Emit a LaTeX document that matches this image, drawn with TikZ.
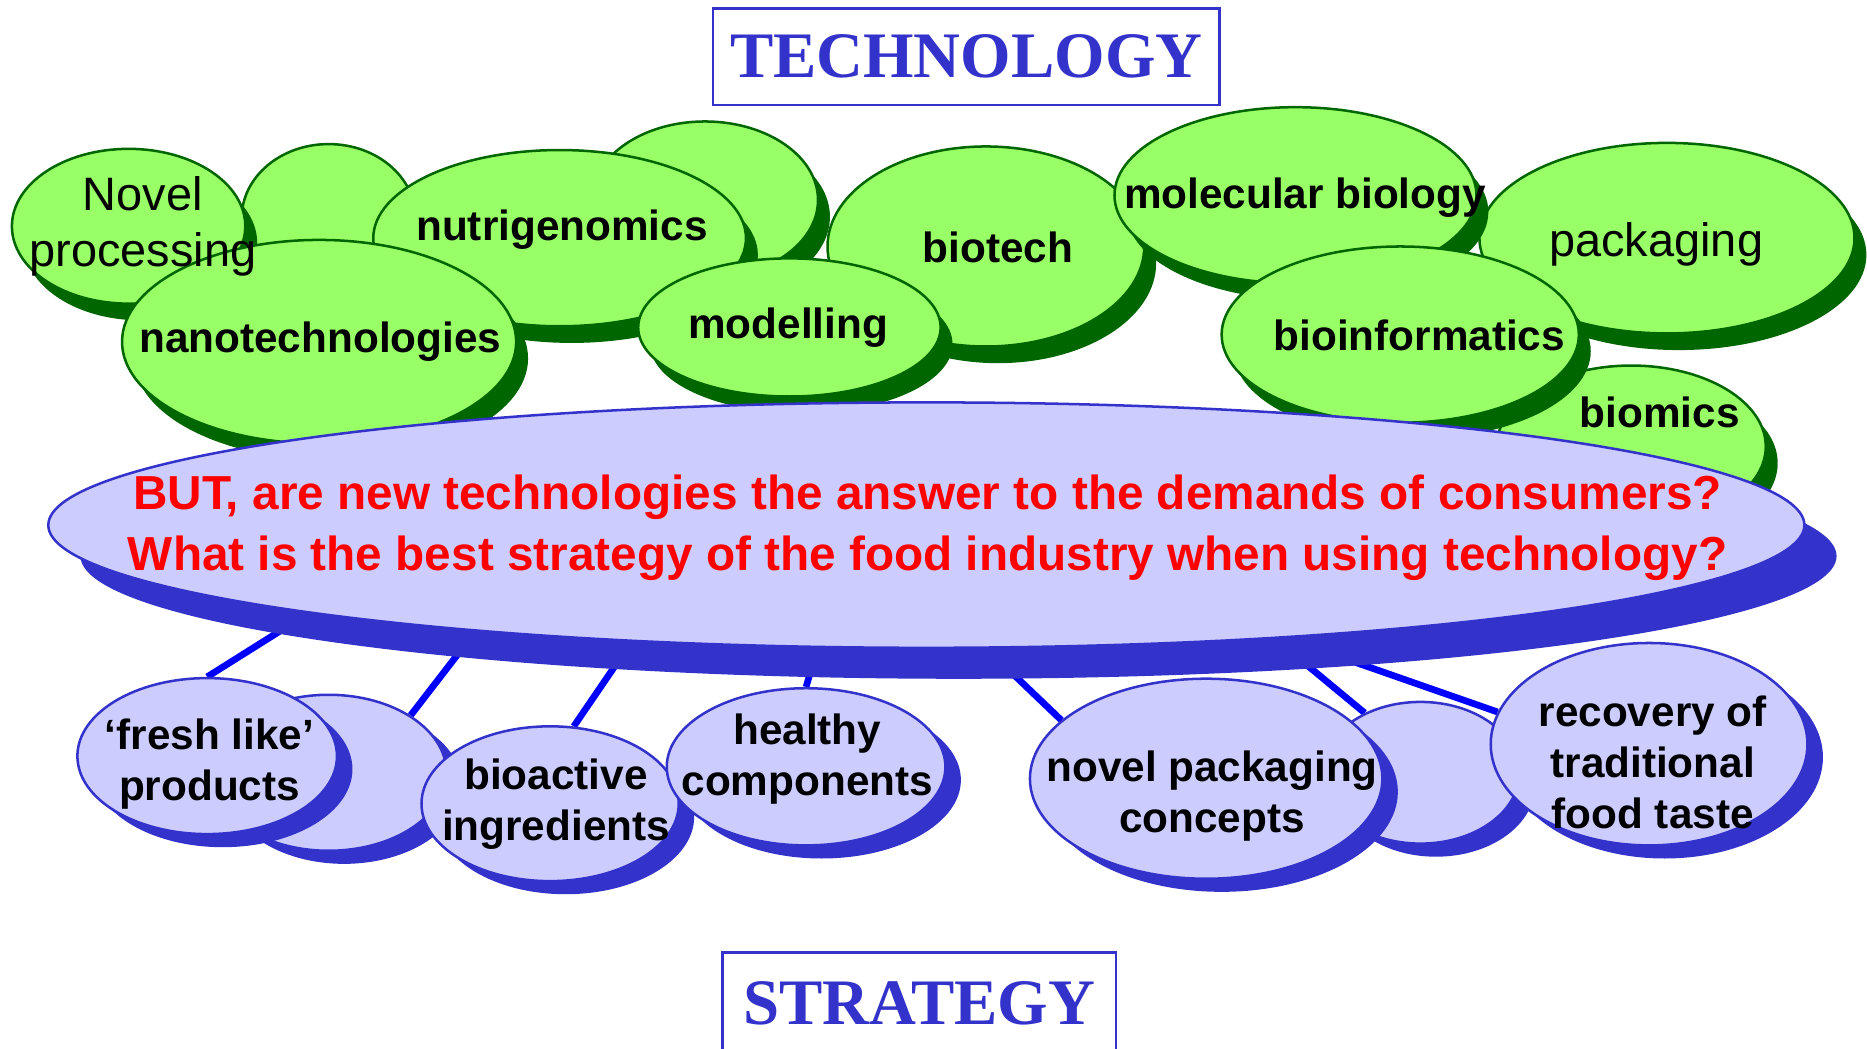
\documentclass[tikz,border=0pt]{standalone}
\usepackage{fontspec}
\setmainfont{Liberation Sans}
\newfontfamily\headfont{Liberation Serif}
\usepackage{xcolor}
\usetikzlibrary{positioning, shapes.geometric, shadows, backgrounds}

\definecolor{leafgreen}{HTML}{99FF66}
\definecolor{deepgreen}{HTML}{006600}
\definecolor{paleblue}{HTML}{CCCCFF}
\definecolor{inkblue}{HTML}{3333CC}

\begin{document}
\begin{tikzpicture}[x=0.01cm, y=-0.01cm,
    techbub/.style 2 args={ellipse, draw=deepgreen, line width=0.6pt, fill=leafgreen, inner sep=0pt,
      minimum width=#1*0.01cm, minimum height=#2*0.01cm,
      general shadow={shadow xshift=0.1cm, shadow yshift=-0.14cm, fill=deepgreen}},
    stratbub/.style 2 args={ellipse, draw=inkblue, line width=0.6pt, fill=paleblue, inner sep=0pt,
      minimum width=#1*0.01cm, minimum height=#2*0.01cm,
      general shadow={shadow xshift=0.13cm, shadow yshift=-0.11cm, fill=inkblue}},
    tag/.style={font=\fontsize{10.1}{12.2}\selectfont\bfseries, align=center, inner sep=0pt},
    plaintag/.style={font=\fontsize{11.2}{13.4}\selectfont, align=center, inner sep=0pt},
    headbox/.style={draw=inkblue, line width=0.6pt, text=inkblue, inner sep=0pt,
      font=\headfont\fontsize{15.5}{18}\selectfont\bfseries},
    link/.style={draw=blue, line width=1.6pt, shorten <=-4pt}]
  % Technology cloud over the question, strategy bubbles under it
  \clip (0,0) rectangle (1568,881);

  \node[headbox, minimum width=4.25cm, minimum height=0.81cm] (tech) at (811.5,47.5) {TECHNOLOGY};

  \node[techbub={190}{132}] (back1) at (592,168) {};
  \node[techbub={146}{124}] (back2) at (276,183) {};
  \node[techbub={196}{130}] (novel) at (108,190) {};
  \node[techbub={313}{148}] (nutri) at (470,200) {};
  \node[techbub={331}{171}] (nano) at (268,287) {};
  \node[techbub={266}{168}] (biotech) at (828,207) {};
  \node[techbub={254}{116}] (model) at (663,275) {};
  \node[techbub={315}{160}] (pack) at (1400,200) {};
  \node[techbub={304}{148}] (molbio) at (1088,164) {};
  \node[techbub={226}{136}] (biomics) at (1370,375) {};
  \node[techbub={300}{148}] (bioinf) at (1176,281) {};

  \node[ellipse, draw=inkblue, line width=0.6pt, fill=paleblue, inner sep=0pt,
    minimum width=14.74cm, minimum height=2.06cm,
    general shadow={shadow xshift=0.27cm, shadow yshift=-0.26cm, fill=inkblue}] (quest) at (778,441) {};

  \node[stratbub={198}{131}] (extra1) at (276,649) {};
  \node[stratbub={218}{131}] (fresh) at (174,635) {};
  \node[stratbub={216}{130}] (bioact) at (462,675) {};
  \node[stratbub={234}{132}] (healthy) at (677,644) {};
  \node[stratbub={166}{119}] (extra2) at (1193,649) {};
  \node[stratbub={296}{168}] (novpack) at (1013,654) {};
  \node[stratbub={266}{170}] (recov) at (1385,625) {};

  \coordinate (c1) at (232,532);
  \coordinate (c2) at (381,554);
  \coordinate (c3) at (514,563);
  \coordinate (c4) at (679,570);
  \coordinate (c5) at (856,571);
  \coordinate (c6) at (1103,563);
  \coordinate (c7) at (1149,560);
  \begin{scope}[on background layer]
    \draw[link] (c1) -- (fresh.north);
    \draw[link] (c2) -- (extra1.35);
    \draw[link] (c3) -- (bioact.73);
    \draw[link] (c4) -- (healthy.north);
    \draw[link] (c5) -- (novpack.158);
    \draw[link] (c6) -- (extra2.133);
    \draw[link] (c7) -- (recov.168);
  \end{scope}

  \node[plaintag] (lnovel) at (120,190) {Novel\\processing};
  \node[tag] (lnutri) at (472,193) {nutrigenomics};
  \node[tag] (lnano) at (269,287) {nanotechnologies};
  \node[tag] (lbiotech) at (838,208) {biotech};
  \node[tag] (lmodel) at (662,275) {modelling};
  \node[tag] (lmolbio) at (1096,166) {molecular biology};
  \node[plaintag] (lpack) at (1391,205) {packaging};
  \node[tag] (lbioinf) at (1192,282) {bioinformatics};
  \node[tag] (lbiomics) at (1394,346) {biomics};

  \node[tag, text=red, font=\fontsize{11.4}{14.5}\selectfont\bfseries] (lquest) at (779,443.5)
    {BUT, are new technologies the answer to the demands of consumers?\\
     What is the best strategy of the food industry when using technology?};

  \node[tag] (lfresh) at (176,641.5) {‘fresh like’\\products};
  \node[tag] (lbioact) at (467,675.5) {bioactive\\ingredients};
  \node[tag] (lhealthy) at (678,637.5) {healthy\\components};
  \node[tag] (lnovpack) at (1018,668.5) {novel packaging\\concepts};
  \node[tag] (lrecov) at (1388,640) {recovery of\\traditional\\food taste};

  \node[headbox, minimum width=3.30cm, minimum height=0.85cm] (strat) at (772,842.5) {STRATEGY};
\end{tikzpicture}
\end{document}
